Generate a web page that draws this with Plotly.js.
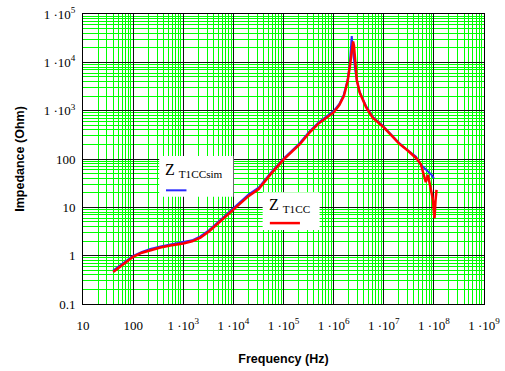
<!DOCTYPE html>
<html>
<head>
<meta charset="utf-8">
<script src="https://cdn.plot.ly/plotly-3.0.1.min.js"></script>
<style>html,body{margin:0;padding:0;background:#fff;}#chart{width:505px;height:371px;}</style>
</head>
<body>
<div id="chart"></div>
<script>
// Measured impedance Z_T1CC (red)
const freqMeas = [40, 50, 60, 80, 100, 150, 220, 350, 550, 1000, 1500, 2200, 3300, 5500, 7500, 1e4, 2e4, 3.2e4, 5.5e4, 1e5, 2.1e5, 3.3e5, 5e5, 1e6, 1.3e6, 1.6e6, 1.9e6, 2.1e6, 2.25e6, 2.35e6, 2.45e6, 2.55e6, 2.7e6, 2.9e6, 3.3e6, 4.4e6, 6e6, 1e7, 1.5e7, 2e7, 3e7, 4.4e7, 5.5e7, 6.9e7, 7.6e7, 8.7e7, 9.5e7, 1e8, 1.03e8, 1.08e8, 1.13e8];
const zMeas    = [0.46, 0.55, 0.64, 0.8, 0.95, 1.15, 1.3, 1.48, 1.62, 1.78, 1.98, 2.35, 3.2, 5.2, 7.0, 9.2, 17, 24, 48, 97, 200, 350, 540, 920, 1300, 2000, 4000, 8000, 14000, 22000, 27000, 22000, 9000, 4300, 2400, 1200, 720, 450, 290, 210, 150, 105, 78, 33, 47, 21, 15, 8, 6, 14, 23];
// Simulated impedance Z_T1CCsim (blue)
const freqSim  = [40, 50, 60, 80, 100, 150, 220, 350, 550, 1000, 1500, 2200, 3300, 5500, 7500, 1e4, 2e4, 3.2e4, 5.5e4, 1e5, 2.1e5, 3.3e5, 5e5, 1e6, 1.3e6, 1.6e6, 1.9e6, 2.1e6, 2.2e6, 2.3e6, 2.4e6, 2.5e6, 2.7e6, 2.9e6, 3.3e6, 4.4e6, 6e6, 1e7, 1.5e7, 2e7, 3e7, 4e7, 4.4e7, 5.5e7, 6.9e7, 8e7, 9e7, 1e8];
const zSim     = [0.49, 0.58, 0.67, 0.83, 0.99, 1.2, 1.37, 1.54, 1.68, 1.86, 2.08, 2.5, 3.4, 5.5, 7.4, 9.8, 18.5, 25.5, 51, 102, 212, 372, 570, 980, 1380, 2150, 4300, 9200, 16000, 35000, 20000, 12000, 7000, 4300, 2450, 1270, 750, 465, 298, 218, 152, 122, 112, 76, 60, 53, 47, 40];

const xTickVals = [10, 100, 1e3, 1e4, 1e5, 1e6, 1e7, 1e8, 1e9];
const xTickText = ['10', '100', '1 ·10<sup>3</sup>', '1 ·10<sup>4</sup>', '1 ·10<sup>5</sup>', '1 ·10<sup>6</sup>', '1 ·10<sup>7</sup>', '1 ·10<sup>8</sup>', '1 ·10<sup>9</sup>'];
const yTickVals = [0.1, 1, 10, 100, 1e3, 1e4, 1e5];
const yTickText = ['0.1', '1', '10', '100', '1 ·10<sup>3</sup>', '1 ·10<sup>4</sup>', '1 ·10<sup>5</sup>'];
const seriesNames = ['Z <sub>T1CCsim</sub>', 'Z <sub>T1CC</sub>'];

const serif = 'Liberation Serif, Times New Roman, serif';
const sans = 'Liberation Sans, Arial, sans-serif';

const traces = [
  {x: freqSim, y: zSim, type: 'scatter', mode: 'lines', name: seriesNames[0],
   line: {color: '#2a2aff', width: 2}},
  {x: freqMeas, y: zMeas, type: 'scatter', mode: 'lines', name: seriesNames[1],
   line: {color: '#ff0000', width: 2.5}}
];

const axisCommon = {
  type: 'log', showline: true, linecolor: '#000', linewidth: 1, mirror: true,
  showgrid: true, gridcolor: '#111', gridwidth: 1, zeroline: false,
  ticks: '', tickmode: 'array',
  tickfont: {family: serif, size: 13, color: '#000'},
  minor: {showgrid: true, gridcolor: '#00ff00', gridwidth: 1, dtick: 'D1'}
};

const layout = {
  width: 505, height: 371,
  margin: {l: 83, r: 21, t: 14, b: 67},
  paper_bgcolor: '#fff', plot_bgcolor: '#fff',
  showlegend: false,
  xaxis: Object.assign({}, axisCommon, {
    range: [1, 9], tickvals: xTickVals, ticktext: xTickText, dtick: 1,
    ticklabelstandoff: 9,
    title: {text: 'Frequency (Hz)', font: {family: sans, size: 12.5, color: '#000', weight: 'bold'}, standoff: 22}
  }),
  yaxis: Object.assign({}, axisCommon, {
    range: [-1, 5], tickvals: yTickVals, ticktext: yTickText, dtick: 1,
    ticklabelstandoff: 4,
    title: {text: 'Impedance (Ohm)', font: {family: sans, size: 12.5, color: '#000', weight: 'bold'}, standoff: 16}
  }),
  shapes: [
    {type: 'rect', xref: 'paper', yref: 'paper', x0: 0.19, x1: 0.375, y0: 0.37, y1: 0.51,
     fillcolor: '#fff', line: {width: 0}, layer: 'above'},
    {type: 'line', xref: 'paper', yref: 'paper', x0: 0.207, x1: 0.258, y0: 0.392, y1: 0.392,
     line: {color: '#2a2aff', width: 2}, layer: 'above'},
    {type: 'rect', xref: 'paper', yref: 'paper', x0: 0.448, x1: 0.59, y0: 0.255, y1: 0.385,
     fillcolor: '#fff', line: {width: 0}, layer: 'above'},
    {type: 'line', xref: 'paper', yref: 'paper', x0: 0.466, x1: 0.541, y0: 0.279, y1: 0.279,
     line: {color: '#ff0000', width: 2.5}, layer: 'above'}
  ],
  annotations: [
    {xref: 'paper', yref: 'paper', x: 0.2, y: 0.46, xanchor: 'left', yanchor: 'middle',
     text: seriesNames[0], showarrow: false, font: {family: serif, size: 16, color: '#000'}},
    {xref: 'paper', yref: 'paper', x: 0.458, y: 0.34, xanchor: 'left', yanchor: 'middle',
     text: seriesNames[1], showarrow: false, font: {family: serif, size: 16, color: '#000'}}
  ]
};

Plotly.newPlot('chart', traces, layout, {displayModeBar: false, staticPlot: true});
</script>
</body>
</html>
